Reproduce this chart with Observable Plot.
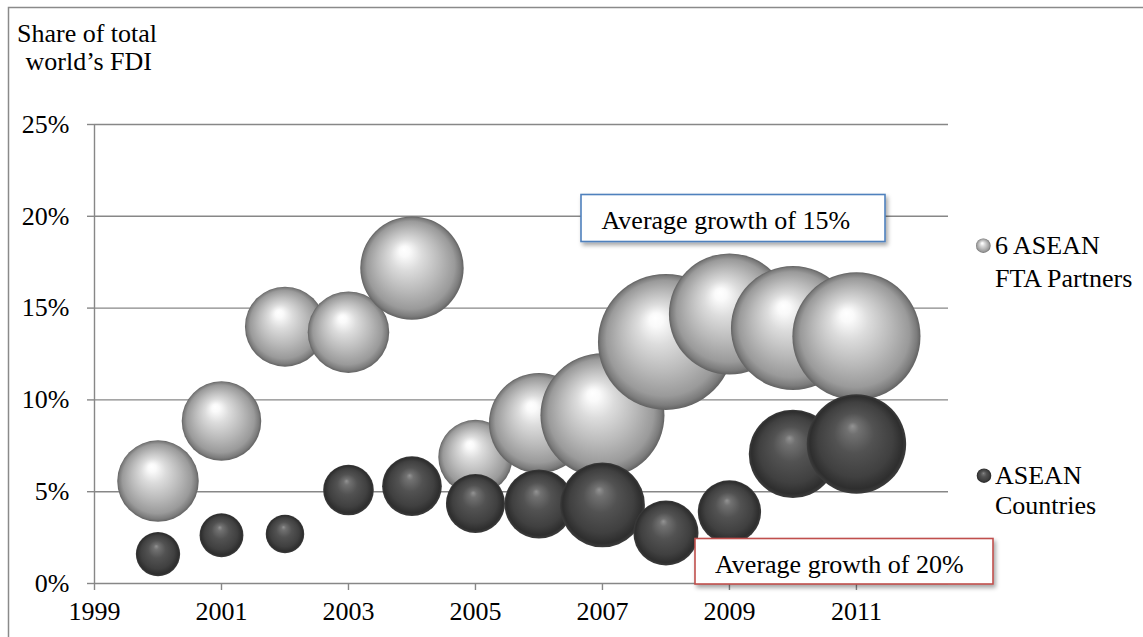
<!DOCTYPE html>
<html>
<head>
<meta charset="utf-8">
<script src="https://cdn.jsdelivr.net/npm/d3@7"></script>
<script src="https://cdn.jsdelivr.net/npm/@observablehq/plot@0.6"></script>
<style>
  html, body { margin: 0; padding: 0; background: #fff; }
  #chart { position: relative; width: 1143px; height: 637px; overflow: hidden; }
</style>
</head>
<body>
<div id="chart"></div>
<script>
// ---- Data ----
const years = [2000, 2001, 2002, 2003, 2004, 2005, 2006, 2007, 2008, 2009, 2010, 2011];
const partnersShare = [5.58, 8.85, 13.99, 13.69, 17.18, 6.89, 8.74, 9.16, 13.16, 14.68, 13.92, 13.47];
const partnersSize  = [16.6, 15.8, 16.0, 16.6, 26.7, 13.8, 25.0, 38.4, 46.2, 36.6, 38.4, 41.0];
const aseanShare    = [1.60, 2.63, 2.70, 5.09, 5.30, 4.36, 4.33, 4.28, 2.75, 3.90, 7.06, 7.60];
const aseanSize     = [4.9, 4.8, 3.7, 6.4, 8.9, 8.7, 11.9, 18.0, 10.6, 10.0, 19.5, 24.7];
const seriesNames = [["6 ASEAN", "FTA Partners"], ["ASEAN", "Countries"]];
const yTicks = [0, 5, 10, 15, 20, 25];
const xTicks = [1999, 2001, 2003, 2005, 2007, 2009, 2011];
const xDomain = [1999, 2012.45];
const titleLines = ["Share of total", "world\u2019s FDI"];
const notes = ["Average growth of 15%", "Average growth of 20%"];

const partners = years.map((y, i) => ({year: y, share: partnersShare[i], size: partnersSize[i]}));
const asean = years.map((y, i) => ({year: y, share: aseanShare[i], size: aseanSize[i]}));

const gray = "#878787";
const font = "'Liberation Serif', 'Times New Roman', serif";

const chart = Plot.plot({
  width: 1143,
  height: 637,
  marginLeft: 94,
  marginRight: 195,
  marginTop: 124,
  marginBottom: 54,
  style: {fontFamily: font, fontSize: "26px", color: "#000", background: "#fff", overflow: "visible"},
  x: {domain: xDomain},
  y: {domain: [0, 25]},
  r: {type: "sqrt", domain: [0, 46.2], range: [0, 68]},
  marks: [
    Plot.gridY(yTicks, {stroke: gray, strokeOpacity: 1, strokeWidth: 1.4}),
    Plot.ruleX([xDomain[0]], {stroke: gray, strokeWidth: 1.4}),
    Plot.axisY(yTicks, {tickFormat: d => d + "%", tickSize: 7, tickPadding: 18, stroke: gray, strokeWidth: 1.4, fill: "#000", fontSize: 26, label: null}),
    Plot.axisX(xTicks, {tickFormat: d => String(d), tickSize: 7, tickPadding: 11, stroke: gray, strokeWidth: 1.4, fill: "#000", fontSize: 26, label: null}),
    Plot.dot(partners, {x: "year", y: "share", r: "size", fill: "url(#gLight)", stroke: "none", sort: null}),
    Plot.dot(asean, {x: "year", y: "share", r: "size", fill: "url(#gDark)", stroke: "none", sort: null})
  ]
});

document.getElementById("chart").appendChild(chart);

const svg = d3.select(chart);
const defs = svg.insert("defs", ":first-child");

function sphere(id, stops, fx, fy) {
  const g = defs.append("radialGradient").attr("id", id)
    .attr("cx", "50%").attr("cy", "50%").attr("r", "50%")
    .attr("fx", fx).attr("fy", fy);
  stops.forEach(([o, c]) => g.append("stop").attr("offset", o).attr("stop-color", c));
}
sphere("gLight", [[0, "#ffffff"], [0.1, "#fafafa"], [0.3, "#dcdcdc"], [0.6, "#b9b9b9"], [0.85, "#9a9a9a"], [0.95, "#7c7c7c"], [1, "#626262"]], "42%", "32%");
sphere("gDark", [[0, "#939393"], [0.12, "#717171"], [0.4, "#525252"], [0.75, "#404040"], [0.93, "#2e2e2e"], [1, "#3c3c3c"]], "46%", "32%");

const f = defs.append("filter").attr("id", "shadow").attr("x", "-10%").attr("y", "-20%").attr("width", "130%").attr("height", "160%");
f.append("feDropShadow").attr("dx", 2).attr("dy", 3).attr("stdDeviation", 2).attr("flood-color", "#000").attr("flood-opacity", 0.35);

const over = svg.append("g").attr("font-family", font).attr("font-size", 26).attr("fill", "#000").attr("text-anchor", "start");

// outer border
over.append("path").attr("d", "M8.5,637V7.5H1143").attr("fill", "none").attr("stroke", "#8a8a8a").attr("stroke-width", 1.5);

// title
over.append("text").attr("x", 17).attr("y", 41.7).text(titleLines[0]);
over.append("text").attr("x", 25.5).attr("y", 70.2).text(titleLines[1]);

// legend
const legend = [
  {grad: "gLight", cx: 983.3, cy: 245.7, lines: seriesNames[0], base: [254.3, 286.7]},
  {grad: "gDark", cx: 984, cy: 475.7, lines: seriesNames[1], base: [484, 514.3]}
];
legend.forEach(l => {
  over.append("circle").attr("cx", l.cx).attr("cy", l.cy).attr("r", 7.3).attr("fill", `url(#${l.grad})`);
  l.lines.forEach((t, i) => over.append("text").attr("x", 995).attr("y", l.base[i]).text(t));
});

// annotation boxes
const boxes = [
  {x: 581, y: 194.5, w: 304, h: 47, stroke: "#4f81bd", tx: 601.5, ty: 229.3, text: notes[0]},
  {x: 695, y: 538.5, w: 298, h: 45.5, stroke: "#c0504d", tx: 715, ty: 573.3, text: notes[1]}
];
boxes.forEach(b => {
  over.append("rect").attr("x", b.x).attr("y", b.y).attr("width", b.w).attr("height", b.h)
    .attr("fill", "#fff").attr("stroke", b.stroke).attr("stroke-width", 1.6).attr("filter", "url(#shadow)");
  over.append("text").attr("x", b.tx).attr("y", b.ty).text(b.text);
});
</script>
</body>
</html>
